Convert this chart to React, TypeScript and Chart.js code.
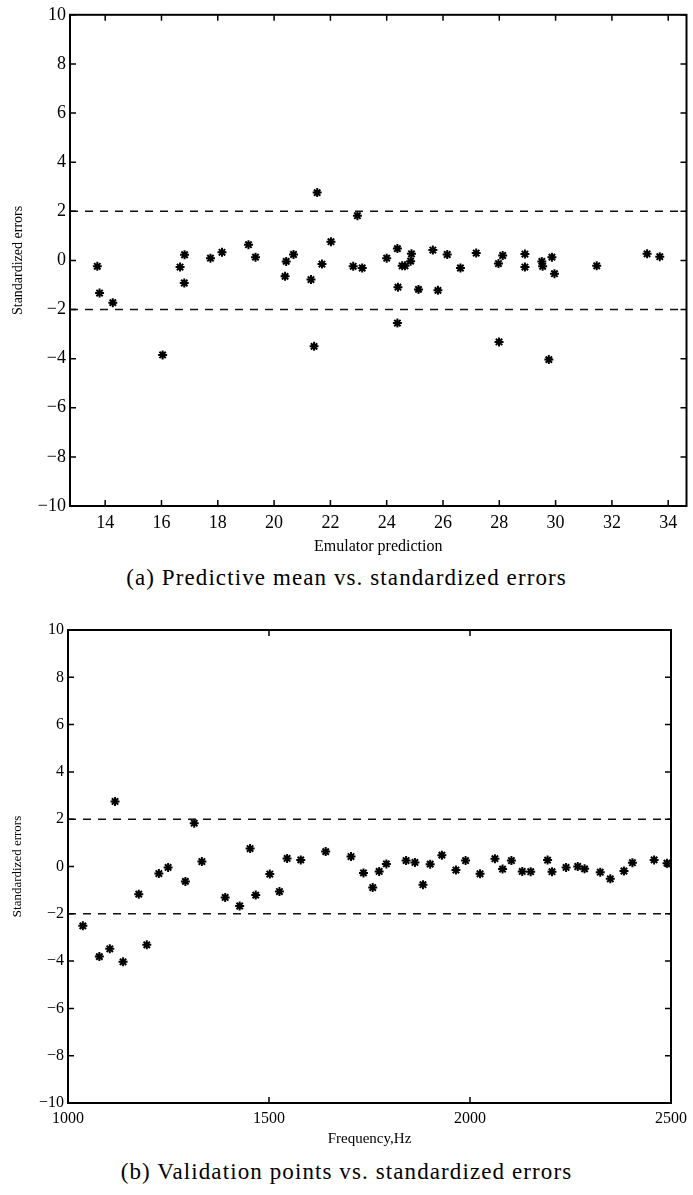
import React, { useEffect, useRef } from "react";
import { Chart, registerables } from "chart.js";

Chart.register(...registerables);

// ---- Panel (a) data ----
const predX = [13.72, 13.8, 14.27, 16.04, 16.66, 16.82, 16.81, 17.74, 18.15, 19.09, 19.34, 20.39, 20.43, 20.69, 21.31, 21.42, 21.53, 21.7, 22.02, 22.81, 22.96, 23.13, 24.0, 24.38, 24.4, 24.38, 24.55, 24.65, 24.88, 24.85, 25.13, 25.64, 25.82, 26.15, 26.62, 27.18, 27.97, 28.12, 27.99, 28.91, 28.91, 29.51, 29.54, 29.87, 29.96, 29.76, 31.46, 33.25, 33.7];
const predErr = [-0.24, -1.33, -1.72, -3.85, -0.27, 0.23, -0.92, 0.09, 0.33, 0.64, 0.13, -0.65, -0.04, 0.24, -0.78, -3.5, 2.76, -0.15, 0.76, -0.24, 1.82, -0.31, 0.09, 0.48, -1.09, -2.55, -0.22, -0.22, 0.27, -0.03, -1.18, 0.42, -1.22, 0.24, -0.31, 0.3, -0.13, 0.2, -3.32, 0.26, -0.27, -0.04, -0.24, 0.13, -0.54, -4.04, -0.22, 0.27, 0.15];
const predXTicks = [14, 16, 18, 20, 22, 24, 26, 28, 30, 32, 34];
const predXRange = [12.75, 34.65];

// ---- Panel (b) data ----
const freqX = [1037, 1078, 1104, 1117, 1137, 1176, 1196, 1226, 1249, 1292, 1314, 1333, 1391, 1427, 1453, 1467, 1502, 1526, 1545, 1579, 1641, 1704, 1735, 1758, 1774, 1792, 1841, 1863, 1883, 1901, 1930, 1965, 1989, 2025, 2062, 2081, 2103, 2130, 2151, 2193, 2204, 2239, 2268, 2285, 2324, 2349, 2383, 2404, 2458, 2490];
const freqErr = [-2.51, -3.81, -3.48, 2.75, -4.03, -1.17, -3.31, -0.3, -0.04, -0.63, 1.83, 0.21, -1.31, -1.67, 0.76, -1.21, -0.32, -1.06, 0.34, 0.28, 0.63, 0.42, -0.27, -0.89, -0.21, 0.11, 0.25, 0.17, -0.77, 0.1, 0.48, -0.15, 0.25, -0.31, 0.33, -0.11, 0.25, -0.21, -0.22, 0.27, -0.22, -0.04, 0.0, -0.1, -0.24, -0.52, -0.19, 0.16, 0.28, 0.14];
const freqXTicks = [1000, 1500, 2000, 2500];
const freqXRange = [1000, 2500];

const yTicks = [-10, -8, -6, -4, -2, 0, 2, 4, 6, 8, 10];
const limits = [2, -2];

const fmt = (v: number) => (v < 0 ? "\u2212" + Math.abs(v) : String(v));

const framePlugin = {
  id: "frame",
  afterDraw(chart: any) {
    const { ctx, chartArea } = chart;
    const { left, right, top, bottom } = chartArea;
    const xs = chart.scales.x;
    const ys = chart.scales.y;
    const len = chart.options.plugins.frame?.len ?? 6;
    ctx.save();
    ctx.strokeStyle = "#000";
    ctx.lineWidth = 1.5;
    ctx.beginPath();
    xs.ticks.forEach((t: any) => {
      const p = xs.getPixelForValue(t.value);
      ctx.moveTo(p, bottom);
      ctx.lineTo(p, bottom - len);
      ctx.moveTo(p, top);
      ctx.lineTo(p, top + len);
    });
    ys.ticks.forEach((t: any) => {
      const p = ys.getPixelForValue(t.value);
      ctx.moveTo(left, p);
      ctx.lineTo(left + len, p);
      ctx.moveTo(right, p);
      ctx.lineTo(right - len, p);
    });
    ctx.stroke();
    ctx.lineWidth = 2;
    ctx.strokeRect(left, top, right - left, bottom - top);
    ctx.restore();
  },
};

type PanelProps = {
  xs: number[];
  ys: number[];
  xTicks: number[];
  xRange: number[];
  xTitle: string;
  width: number;
  height: number;
  yAxisWidth: number;
  xAxisHeight: number;
  padTop: number;
  padRight: number;
  tickFont: number;
  yTitleFont: number;
  xTitleFont: number;
};

function Panel(p: PanelProps) {
  const ref = useRef<HTMLCanvasElement | null>(null);
  useEffect(() => {
    if (!ref.current) return;
    const pts = p.xs.map((x, i) => ({ x, y: p.ys[i] }));
    const limitSets = limits.map((l) => ({
      type: "line" as const,
      data: [
        { x: p.xRange[0], y: l },
        { x: p.xRange[1], y: l },
      ],
      borderColor: "#111",
      borderWidth: 1.6,
      borderDash: [8, 7],
      pointRadius: 0,
      fill: false,
    }));
    const chart = new Chart(ref.current, {
      type: "scatter",
      data: {
        datasets: [
          ...limitSets,
          {
            type: "scatter",
            data: pts,
            pointStyle: "star",
            radius: 4.5,
            borderColor: "#000",
            backgroundColor: "#000",
            borderWidth: 2,
          } as any,
        ],
      },
      options: {
        animation: false,
        responsive: false,
        events: [],
        layout: { padding: { top: p.padTop, right: p.padRight, left: 0, bottom: 0 } },
        plugins: {
          legend: { display: false },
          tooltip: { enabled: false },
          frame: { len: 6 },
        } as any,
        scales: {
          x: {
            type: "linear",
            min: p.xRange[0],
            max: p.xRange[1],
            grid: { display: false, drawTicks: false },
            border: { display: false },
            afterBuildTicks: (s: any) => {
              s.ticks = p.xTicks.map((v) => ({ value: v }));
            },
            afterFit: (s: any) => {
              s.height = p.xAxisHeight;
            },
            ticks: {
              color: "#000",
              padding: 6,
              maxRotation: 0,
              autoSkip: false,
              font: { family: "Liberation Serif", size: p.tickFont },
              callback: (v: any) => fmt(Number(v)),
            },
            title: {
              display: true,
              text: p.xTitle,
              color: "#000",
              padding: { top: 0, bottom: 0 },
              font: { family: "Liberation Serif", size: p.xTitleFont },
            },
          },
          y: {
            type: "linear",
            min: -10,
            max: 10,
            grid: { display: false, drawTicks: false },
            border: { display: false },
            afterBuildTicks: (s: any) => {
              s.ticks = yTicks.map((v) => ({ value: v }));
            },
            afterFit: (s: any) => {
              s.width = p.yAxisWidth;
            },
            ticks: {
              color: "#000",
              padding: 4,
              autoSkip: false,
              font: { family: "Liberation Serif", size: p.tickFont },
              callback: (v: any) => fmt(Number(v)),
            },
            title: {
              display: true,
              text: "Standardized errors",
              color: "#000",
              padding: { top: 10, bottom: 4 },
              font: { family: "Liberation Serif", size: p.yTitleFont },
            },
          },
        },
      },
      plugins: [framePlugin],
    } as any);
    return () => chart.destroy();
  }, []);
  return (
    <canvas
      ref={ref}
      width={p.width}
      height={p.height}
      style={{ display: "block", width: p.width, height: p.height }}
    />
  );
}

const captionStyle: React.CSSProperties = {
  position: "absolute",
  left: 0,
  width: 693,
  textAlign: "center",
  fontFamily: "'Liberation Serif', serif",
  fontSize: 23,
  letterSpacing: "1.1px",
  color: "#000",
  lineHeight: "26px",
};

export default function App() {
  useEffect(() => {
    document.body.style.margin = "0";
  }, []);
  return (
    <div style={{ position: "relative", width: 693, height: 1195, background: "#fff" }}>
      <div style={{ position: "absolute", left: 0, top: 0 }}>
        <Panel
          xs={predX}
          ys={predErr}
          xTicks={predXTicks}
          xRange={predXRange}
          xTitle="Emulator prediction"
          width={693}
          height={556}
          yAxisWidth={70}
          xAxisHeight={50}
          padTop={14}
          padRight={2}
          tickFont={18}
          yTitleFont={14}
          xTitleFont={16}
        />
      </div>
      <div style={{ ...captionStyle, top: 565 }}>(a) Predictive mean vs. standardized errors</div>
      <div style={{ position: "absolute", left: 0, top: 616 }}>
        <Panel
          xs={freqX}
          ys={freqErr}
          xTicks={freqXTicks}
          xRange={freqXRange}
          xTitle="Frequency,Hz"
          width={693}
          height={532}
          yAxisWidth={68}
          xAxisHeight={45}
          padTop={14}
          padRight={20}
          tickFont={16}
          yTitleFont={13}
          xTitleFont={15}
        />
      </div>
      <div style={{ ...captionStyle, top: 1159 }}>(b) Validation points vs. standardized errors</div>
    </div>
  );
}
